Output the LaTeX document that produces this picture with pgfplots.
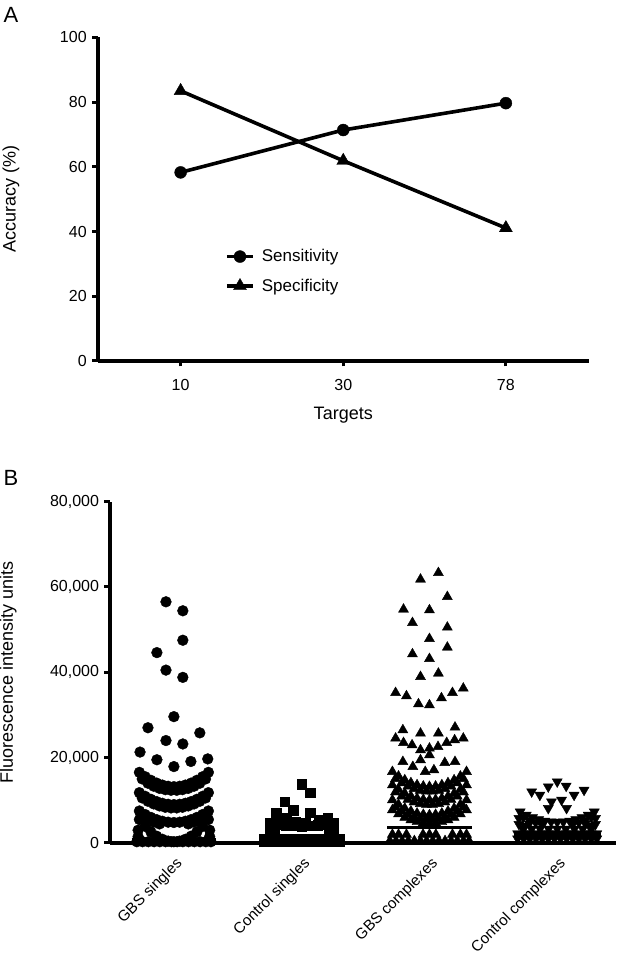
\documentclass[border=0pt]{standalone}
\usepackage{fontspec}
\setmainfont{Liberation Sans}
\usepackage{pgfplots}
\pgfplotsset{compat=1.18}
\newcommand{\tickfont}{\fontsize{16}{19}\selectfont}
\newcommand{\labfont}{\fontsize{18}{21}\selectfont}
\pgfplotsset{
  panel/.style={
    scale only axis,
    axis lines=left,
    axis line style={-, line width=3.6pt, black},
    tick style={line width=3pt, black},
    major tick length=5.5pt,
    tick align=outside,
    tick label style={font=\tickfont},
    label style={font=\labfont},
    /pgf/number format/assume math mode=true,
  },
  dots/.style={only marks, black, mark options={draw=black, fill=black, line width=0.4pt}},
  med/.style={black, line width=3.4pt, no marks},
}
\begin{document}
\begin{tikzpicture}
\path[use as bounding box] (0pt,0pt) rectangle (627pt,957pt);
\node[font=\fontsize{22}{25}\selectfont] at (11pt,942pt) {A};
\node[font=\fontsize{22}{25}\selectfont] at (11pt,479.5pt) {B};

% ---------------- Panel A ----------------
\begin{axis}[panel,
  at={(97.7pt,596pt)}, anchor=south west,
  width=491.1pt, height=323.5pt,
  xmin=-0.51, xmax=2.51, ymin=0, ymax=100,
  xtick={0,1,2}, xticklabels={10,30,78},
  ytick={0,20,40,60,80,100},
  yticklabel style={xshift=-2pt},
  xticklabel style={yshift=-9pt},
  xlabel={Targets},
  xlabel style={at={(axis description cs:0.5,0)}, anchor=center, yshift=-54pt},
  ylabel={Accuracy (\%)},
  ylabel style={at={(axis description cs:-0.1765,0.5)}, anchor=center},
  legend style={draw=none, fill=none, at={(0.2592,0.2773)}, anchor=west,
    font=\fontsize{17}{20}\selectfont, inner sep=0pt,
    nodes={inner sep=0pt}, column sep=7pt, row sep=15pt},
  legend cell align=left,
  legend image code/.code={\draw[mark repeat=2,mark phase=2,#1] plot coordinates {(0pt,0pt) (13pt,0pt) (26pt,0pt)};},
]
\addplot[black, line width=3.6pt, mark=*, mark size=6pt, mark options={solid, fill=black, line width=0.4pt}]
  coordinates {(0,58.3) (1,71.4) (2,79.7)};
\addlegendentry{Sensitivity}
\addplot[black, line width=3.6pt, mark=triangle*, mark size=7.5pt, mark options={solid, fill=black, line width=0.4pt}]
  coordinates {(0,83.5) (1,61.9) (2,41.1)};
\addlegendentry{Specificity}
\end{axis}

% ---------------- Panel B ----------------
\begin{axis}[panel,
  at={(110pt,114pt)}, anchor=south west,
  width=506pt, height=341.5pt,
  xmin=-0.5, xmax=3.46, ymin=0, ymax=80000,
  ytick={0,20000,40000,60000,80000},
  scaled y ticks=false,
  yticklabel style={xshift=-2pt, /pgf/number format/.cd, fixed, 1000 sep={,}},
  xtick={0,1,2,3},
  xticklabels={GBS singles, Control singles, GBS complexes, Control complexes},
  xtick style={draw=none},
  xticklabel style={font=\fontsize{15.2}{18}\selectfont, yshift=-3pt, xshift=1pt, rotate=45, anchor=north east},
  ylabel={Fluorescence intensity units},
  ylabel style={at={(axis description cs:-0.201,0.5)}, anchor=center},
]
% GBS singles (circles)
\addplot[dots, mark=*, mark size=5.4pt] coordinates {
(-0.062,56500) (0.07,54400) (0.07,47500) (-0.133,44600) (-0.062,40500) (0.07,38800)
(0,29600) (-0.203,27000) (0.203,25800) (-0.062,24000) (0.07,23200) (-0.265,21300)
(-0.133,19500) (0.133,19100) (0,17900) (0.265,19700)
(-0.27,16548) (-0.225,15526) (-0.18,14687) (-0.135,14037) (-0.09,13572) (-0.045,13293) (0,13200)
(0.045,13293) (0.09,13572) (0.135,14037) (0.18,14687) (0.225,15526) (0.27,16548)
(-0.2475,15000) (-0.2025,14000) (-0.1575,13300) (-0.1125,12800) (-0.0675,12500) (-0.0225,12350)
(0.0225,12350) (0.0675,12500) (0.1125,12800) (0.1575,13300) (0.2025,14000) (0.2475,15000)
(-0.27,11790) (-0.225,10938) (-0.18,10239) (-0.135,9698) (-0.09,9310) (-0.045,9077) (0,9000)
(0.045,9077) (0.09,9310) (0.135,9698) (0.18,10239) (0.225,10938) (0.27,11790)
(-0.2475,10544) (-0.2025,9769) (-0.1575,9149) (-0.1125,8684) (-0.0675,8374) (-0.0225,8219)
(0.0225,8219) (0.0675,8374) (0.1125,8684) (0.1575,9149) (0.2025,9769) (0.2475,10544)
(-0.27,7497) (-0.225,6673) (-0.18,5998) (-0.135,5474) (-0.09,5100) (-0.045,4875) (0,4800)
(0.045,4875) (0.09,5100) (0.135,5474) (0.18,5998) (0.225,6673) (0.27,7497)
(-0.2475,6266) (-0.2025,5517) (-0.1575,4918) (-0.1125,4468)
(0.1125,4468) (0.1575,4918) (0.2025,5517) (0.2475,6266)
(-0.27,5500) (-0.225,3910) (-0.18,2610) (-0.135,1600) (-0.09,878) (-0.045,445) (0,300)
(0.045,445) (0.09,878) (0.135,1600) (0.18,2610) (0.225,3910) (0.27,5500)
(-0.28,3000) (0.28,3000) (-0.28,1500) (0.28,1500)
(-0.29,300) (-0.245,300) (-0.2,300) (-0.155,300) (-0.11,300) (-0.065,300) (-0.02,300)
(0.025,300) (0.07,300) (0.115,300) (0.16,300) (0.205,300) (0.25,300) (0.29,300)
};
\addplot[med] coordinates {(-0.33,700) (0.33,700)};
% Control singles (squares)
\addplot[dots, mark=square*, mark size=4.8pt] coordinates {
(1,13750) (1.069,11780) (0.867,9670) (0.934,7730) (0.8,6950) (0.88,5900)
(1.069,7100) (1.203,5780) (1.136,5300) (0.95,5000) (1.03,4700)
(0.75,4800) (0.792,4554) (0.833,4357) (0.875,4200) (0.917,4088) (0.958,4023) (1,4000)
(1.042,4023) (1.083,4088) (1.125,4200) (1.167,4357) (1.208,4554) (1.25,4800)
(0.79,3300) (1.21,3300) (0.75,2600) (1.25,2600) (0.78,2000) (1.22,2000)
(0.706,1000) (0.748,1000) (0.79,1000) (0.832,1000) (0.874,1000) (0.916,1000) (0.958,1000) (1.0,1000)
(1.042,1000) (1.084,1000) (1.126,1000) (1.168,1000) (1.21,1000) (1.252,1000) (1.294,1000)
(0.706,300) (0.748,300) (0.79,300) (0.832,300) (0.874,300) (0.916,300) (0.958,300) (1.0,300)
(1.042,300) (1.084,300) (1.126,300) (1.168,300) (1.21,300) (1.252,300) (1.294,300)
};
\addplot[med] coordinates {(0.67,500) (1.33,500)};
% GBS complexes (triangles)
\addplot[dots, mark=triangle*, mark size=5.8pt] coordinates {
(2.07,63300) (1.93,61760) (2.14,57680) (1.797,54730) (2.0,54570) (1.867,51590) (2.14,50520)
(2.0,47850) (2.14,45830) (1.867,44260) (2.0,43160) (1.93,38950) (2.07,39740) (1.735,35200)
(1.82,34430) (1.914,32550) (2.0,32320) (2.094,33960) (2.18,35200) (2.265,36230)
(1.792,26470) (1.93,25690) (2.07,25690) (2.2,27100)
(1.735,24520) (1.797,23490) (1.864,22950) (1.93,21780) (2.0,22180) (2.067,22550) (2.135,23490) (2.197,24120) (2.265,24520)
(1.792,19040) (1.87,17870) (1.93,19440) (2.0,20610) (2.035,17100) (2.12,18810) (2.2,19040) (1.967,16700)
(1.71,16700) (1.758,15636) (1.807,14750) (1.855,14075) (1.903,13592) (1.952,13296) (2,13200)
(2.048,13296) (2.097,13592) (2.145,14075) (2.193,14750) (2.242,15636) (2.29,16700)
(1.734,15044) (1.7825,14069) (1.831,13290) (1.879,12709) (1.9275,12319) (1.976,12124)
(2.024,12124) (2.0725,12319) (2.121,12709) (2.169,13290) (2.2175,14069) (2.266,15044)
(1.71,13580) (1.758,12513) (1.807,11625) (1.855,10948) (1.903,10463) (1.952,10166) (2,10070)
(2.048,10166) (2.097,10463) (2.145,10948) (2.193,11625) (2.242,12513) (2.29,13580)
(1.734,11922) (1.7825,10944) (1.831,10163) (1.879,9581) (1.9275,9189) (1.976,8994)
(2.024,8994) (2.0725,9189) (2.121,9581) (2.169,10163) (2.2175,10944) (2.266,11922)
(1.71,10070) (1.758,9003) (1.807,8115) (1.855,7438) (1.903,6953) (1.952,6656) (2,6560)
(2.048,6656) (2.097,6953) (2.145,7438) (2.193,8115) (2.242,9003) (2.29,10070)
(1.734,8412) (1.7825,7434) (1.831,6653) (1.879,6071) (1.9275,5679) (1.976,5484)
(2.024,5484) (2.0725,5679) (2.121,6071) (2.169,6653) (2.2175,7434) (2.266,8412)
(1.71,7730) (1.758,6782) (1.807,5992) (1.855,5390) (1.903,4959) (1.952,4695) (2,4610)
(2.048,4695) (2.097,4959) (2.145,5390) (2.193,5992) (2.242,6782) (2.29,7730)
(1.71,2000) (1.758,2000) (1.82,2000) (1.95,2000) (2,2000) (2.05,2000) (2.18,2000) (2.242,2000) (2.29,2000)
(1.69,500) (1.738,500) (1.786,500) (1.834,500) (1.882,500) (1.93,500) (1.978,500)
(2.026,500) (2.074,500) (2.122,500) (2.17,500) (2.218,500) (2.266,500) (2.31,500)
};
\addplot[med] coordinates {(1.67,3580) (2.33,3580)};
% Control complexes (inverted triangles)
\addplot[dots, mark=triangle*, mark size=5.8pt, mark options={rotate=180}] coordinates {
(3,14360) (2.93,13190) (3.07,13350) (2.864,11240) (3.21,12410) (2.8,12020) (3.132,11240)
(2.955,9670) (3.034,10070) (2.93,8130) (3.073,8130)
(2.71,7300) (2.758,6570) (2.807,5963) (2.855,5500) (2.903,5169) (2.952,4966) (3,4900)
(3.048,4966) (3.097,5169) (3.145,5500) (3.193,5963) (3.242,6570) (3.29,7300)
(2.734,6018) (2.7825,5350) (2.831,4816) (2.879,4418) (3.121,4418) (3.169,4816) (3.2175,5350) (3.266,6018)
(2.7,5800) (3.3,5800) (2.7,4400) (3.3,4400) (2.73,3400) (3.27,3400) (2.75,4000) (3.25,4000) (2.78,4500) (3.22,4500)
(2.8,3300) (2.866,3300) (2.933,3300) (3,3300) (3.067,3300) (3.134,3300) (3.2,3300)
(2.69,2200) (2.738,2200) (2.786,2200) (2.834,2200) (2.882,2200) (2.93,2200) (2.978,2200)
(3.026,2200) (3.074,2200) (3.122,2200) (3.17,2200) (3.218,2200) (3.266,2200) (3.31,2200)
(2.69,1000) (2.738,1000) (2.786,1000) (2.834,1000) (2.882,1000) (2.93,1000) (2.978,1000)
(3.026,1000) (3.074,1000) (3.122,1000) (3.17,1000) (3.218,1000) (3.266,1000) (3.31,1000)
};
\addplot[med] coordinates {(2.66,1870) (3.34,1870)};
\end{axis}
\end{tikzpicture}
\end{document}
